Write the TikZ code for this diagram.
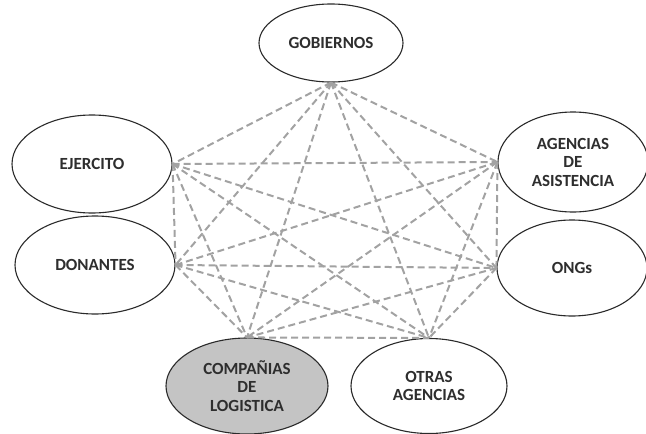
\documentclass[tikz,border=0pt]{standalone}
\usepackage{fontspec}
\setmainfont{Carlito}
\usetikzlibrary{shapes.geometric}
\definecolor{linkgray}{HTML}{A2A2A2}
\definecolor{nodefill}{HTML}{C4C4C4}
\definecolor{edgeline}{HTML}{2A2A2A}
\definecolor{textgray}{HTML}{2E2E2E}
\begin{document}
\begin{tikzpicture}[x=1pt,y=-1pt,
  actor/.style={ellipse,draw=edgeline,line width=1.1pt,fill=white,inner sep=0pt,
    align=center,text=textgray,font=\fontsize{17}{18.5}\selectfont\bfseries},
  link/.style={draw=linkgray,line width=2pt,dash pattern=on 7pt off 4pt}]
\useasboundingbox (0,0) rectangle (646,434);
\node[actor,minimum width=144pt,minimum height=78pt] (G) at (331,43) {GOBIERNOS};
\node[actor,minimum width=160pt,minimum height=98pt] (E) at (92,164) {EJERCITO};
\node[actor,minimum width=160pt,minimum height=98pt] (D) at (95,265) {DONANTES};
\node[actor,minimum width=150pt,minimum height=100pt] (A) at (573,162) {AGENCIAS\\DE\\ASISTENCIA};
\node[actor,minimum width=150pt,minimum height=96pt] (O) at (572,268) {ONGs};
\node[actor,fill=nodefill,minimum width=162pt,minimum height=96pt] (C) at (247,386) {COMPAÑIAS\\DE\\LOGISTICA};
\node[actor,minimum width=156pt,minimum height=95pt] (OA) at (429,386) {OTRAS\\AGENCIAS};
\foreach \a/\b in {G.south/E.east,G.south/D.east,G.south/A.west,G.south/O.west,G.south/C.north,G.south/OA.north,
  E.east/D.east,E.east/A.west,E.east/O.west,E.east/C.north,E.east/OA.north,
  D.east/A.west,D.east/O.west,D.east/C.north,D.east/OA.north,
  A.west/O.west,A.west/C.north,A.west/OA.north,
  O.west/C.north,O.west/OA.north,
  C.north/OA.north}
  \draw[link] (\a) -- (\b);
\end{tikzpicture}
\end{document}
